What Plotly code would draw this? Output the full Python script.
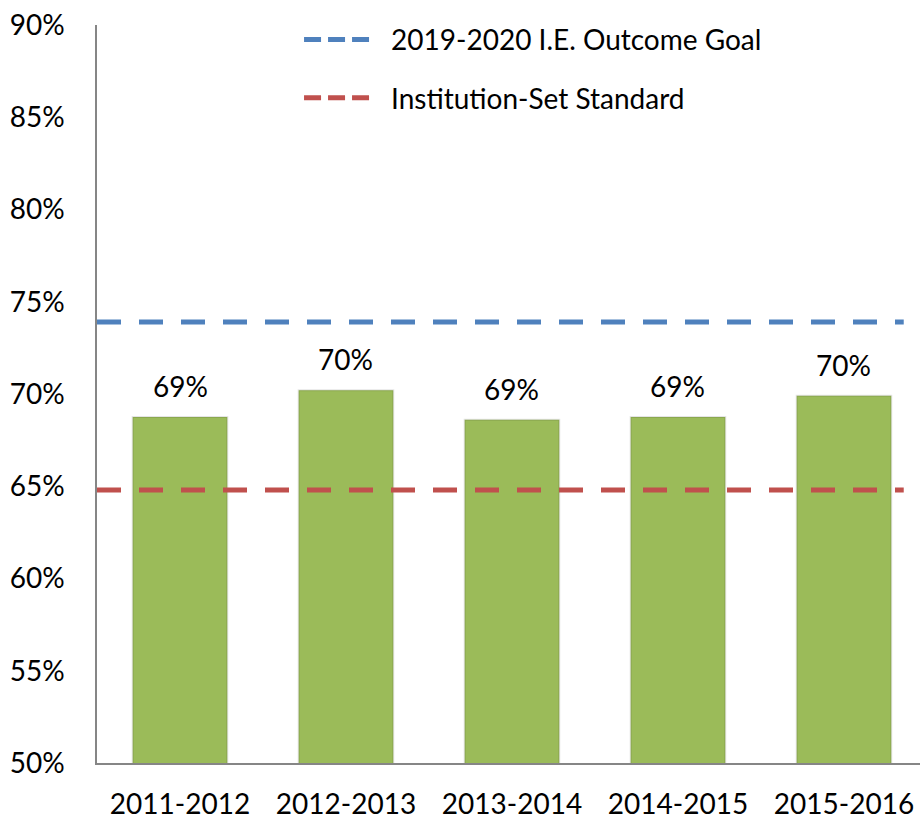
import plotly.graph_objects as go

categories = ["2011-2012", "2012-2013", "2013-2014", "2014-2015", "2015-2016"]
rates = [0.6875, 0.702, 0.686, 0.6875, 0.699]
goal_value = 0.739
standard_value = 0.648
reference_line_span = [-0.5, 4.36]
goal_name = "2019-2020 I.E. Outcome Goal"
standard_name = "Institution-Set Standard"
y_ticks = [0.50, 0.55, 0.60, 0.65, 0.70, 0.75, 0.80, 0.85, 0.90]

FONT = "Lato"
BLUE = "#4F81BD"
RED = "#C0504D"
x_idx = list(range(len(categories)))
x_range = [-0.5, 4.458]

fig = go.Figure()
fig.add_trace(go.Bar(
    x=x_idx, y=rates, width=0.57,
    marker=dict(color="#9BBB59", line=dict(color="rgba(0,0,0,0.10)", width=2)),
    showlegend=False, hoverinfo="skip"))

fig.add_trace(go.Scatter(
    x=reference_line_span, y=[goal_value] * 2, mode="lines", name=goal_name,
    line=dict(color=BLUE, width=5, dash="24px,18px"), showlegend=False))
fig.add_trace(go.Scatter(
    x=reference_line_span, y=[standard_value] * 2, mode="lines", name=standard_name,
    line=dict(color=RED, width=5, dash="24px,18px"), showlegend=False))

# legend entries (legend shows three short dashes as in the reference)
legend_dash = "17px,7px,17px,7px,17px,60px"
fig.add_trace(go.Scatter(
    x=[None], y=[None], mode="lines", name=goal_name,
    line=dict(color=BLUE, width=5, dash=legend_dash), legend="legend"))
fig.add_trace(go.Scatter(
    x=[None], y=[None], mode="lines", name=standard_name,
    line=dict(color=RED, width=5, dash=legend_dash), legend="legend2"))

for xi, v in zip(x_idx, rates):
    fig.add_annotation(x=xi, y=v, text=f"{v:.0%}", showarrow=False,
                       yanchor="bottom", yshift=12,
                       font=dict(family=FONT, size=28, color="black"))

fig.update_layout(
    width=920, height=817,
    margin=dict(l=97, r=0, t=25, b=54, autoexpand=False),
    paper_bgcolor="white", plot_bgcolor="white",
    font=dict(family=FONT, size=28, color="black"),
    legend=dict(x=0.2455, y=0.98, xanchor="left", yanchor="middle",
                font=dict(family=FONT, size=28), itemwidth=82,
                bgcolor="rgba(0,0,0,0)"),
    legend2=dict(x=0.2455, y=0.901, xanchor="left", yanchor="middle",
                 font=dict(family=FONT, size=28), itemwidth=82,
                 bgcolor="rgba(0,0,0,0)"),
)
fig.update_xaxes(range=x_range, tickvals=x_idx, ticktext=categories,
                 showgrid=False, showline=True, linecolor="#868686", linewidth=1.5,
                 ticks="", ticklabelstandoff=16, zeroline=False, automargin=False,
                 tickfont=dict(family=FONT, size=28))
fig.update_yaxes(range=[0.5, 0.9], tickvals=y_ticks, tickformat=".0%",
                 showgrid=False, showline=True, linecolor="#868686", linewidth=1.5,
                 ticks="", ticklabelstandoff=25, zeroline=False, automargin=False,
                 tickfont=dict(family=FONT, size=28))

fig.write_html("out.html", config={"displayModeBar": False},
               post_script="document.body.style.margin='0';")
